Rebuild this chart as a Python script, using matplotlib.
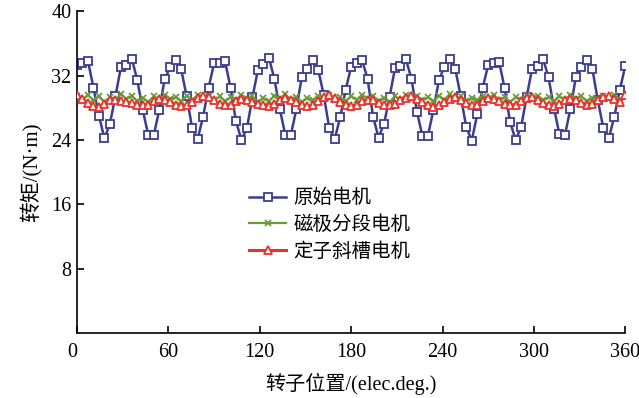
import numpy as np
import matplotlib
matplotlib.use("Agg")
import matplotlib.pyplot as plt

# 数据 (读自原图, 每 3.6 度一个点)
yuanshi = [33.3, 33.6, 33.8, 30.5, 27.0, 24.2, 26.0, 29.4, 33.0, 33.3,
           34.1, 31.4, 27.7, 24.6, 24.6, 27.7, 31.6, 33.0, 33.9, 32.8,
           29.4, 25.5, 24.1, 26.9, 30.5, 33.5, 33.6, 33.8, 30.5, 26.3,
           24.0, 25.5, 29.3, 32.7, 33.4, 34.2, 31.6, 27.8, 24.6, 24.6,
           27.8, 31.8, 32.8, 33.9, 32.7, 29.6, 25.5, 24.1, 26.8, 30.2,
           33.1, 33.6, 33.9, 31.6, 26.9, 24.3, 26.0, 29.3, 32.9, 33.2,
           34.0, 31.6, 27.5, 24.5, 24.5, 27.7, 31.4, 33.1, 34.1, 32.8,
           29.4, 25.6, 23.9, 27.2, 30.5, 33.3, 33.5, 33.7, 30.4, 26.2,
           24.0, 25.6, 29.3, 32.8, 33.2, 34.1, 31.8, 27.9, 24.7, 24.6,
           27.9, 31.8, 33.1, 33.9, 32.8, 28.9, 25.5, 24.2, 26.9, 30.2,
           33.2]

cifen = [29.5, 29.0, 29.6, 28.9, 29.4, 28.7, 29.3, 29.0, 29.7, 29.1,
         29.5, 28.8, 29.2, 28.7, 29.4, 29.0, 29.6, 29.1, 29.3, 28.8,
         29.5, 28.9, 29.6, 29.2, 29.5, 28.9, 29.4, 28.8, 29.3, 29.0,
         29.6, 29.1, 29.4, 28.7, 29.2, 28.8, 29.5, 29.1, 29.7, 29.0,
         29.3, 28.7, 29.2, 28.9, 29.5, 29.2, 29.6, 28.9, 29.3, 28.8,
         29.4, 29.0, 29.6, 29.1, 29.5, 28.8, 29.2, 28.7, 29.4, 29.0,
         29.6, 29.2, 29.5, 28.9, 29.3, 28.8, 29.5, 29.0, 29.7, 29.1,
         29.4, 28.8, 29.2, 28.9, 29.5, 29.1, 29.6, 29.0, 29.3, 28.7,
         29.3, 28.9, 29.6, 29.2, 29.5, 28.9, 29.3, 28.8, 29.4, 29.0,
         29.6, 29.1, 29.4, 28.8, 29.2, 28.9, 29.5, 29.1, 29.6, 29.0,
         29.5]

xiecao = [29.6, 29.1, 28.6, 28.2, 28.1, 28.5, 28.9, 28.9, 28.8, 28.7,
          28.6, 28.4, 28.3, 28.4, 28.8, 29.1, 29.0, 28.7, 28.4, 28.2,
          28.3, 28.7, 29.2, 29.5, 29.3, 28.9, 28.5, 28.3, 28.4, 28.8,
          29.1, 29.0, 28.7, 28.5, 28.4, 28.2, 28.5, 28.9, 29.2, 29.0,
          28.7, 28.4, 28.2, 28.3, 28.8, 29.3, 29.6, 29.2, 28.7, 28.4,
          28.2, 28.4, 28.8, 29.0, 28.9, 28.6, 28.4, 28.3, 28.5, 28.9,
          29.2, 29.4, 29.1, 28.7, 28.3, 28.1, 28.3, 28.7, 29.1, 29.3,
          29.0, 28.6, 28.3, 28.4, 28.8, 29.2, 29.1, 28.8, 28.5, 28.3,
          28.4, 28.8, 29.2, 29.3, 29.0, 28.6, 28.3, 28.2, 28.5, 28.9,
          29.1, 28.9, 28.6, 28.4, 28.5, 28.9, 29.3, 29.5, 29.1, 28.7,
          29.6]

xticks = [0, 60, 120, 180, 240, 300, 360]
yticks = [8, 16, 24, 32, 40]

serif = ['Liberation Serif', 'Noto Sans CJK SC']
plt.rcParams['font.family'] = serif
plt.rcParams['axes.unicode_minus'] = False

fig = plt.figure(figsize=(6.39, 3.98), dpi=100)
ax = fig.add_axes([0.1205, 0.163, 0.858, 0.809])

ax.plot(np.linspace(0, 360, len(yuanshi)), yuanshi, color='#3d3d8f', lw=1.8,
        marker='s', ms=6, mfc='white', mec='#3d3d8f', mew=1.3, label='原始电机', zorder=2)
ax.plot(np.linspace(0, 360, len(cifen)), cifen, color='#6b9b37', lw=1.6,
        marker='x', ms=5, mew=1.3, label='磁极分段电机', zorder=3)
ax.plot(np.linspace(0, 360, len(xiecao)), xiecao, color='#e8322b', lw=2.2,
        marker='^', ms=6, mfc='white', mec='#e8322b', mew=1.3, label='定子斜槽电机', zorder=4)

ax.set_xlim(0, 360)
ax.set_ylim(0, 40)
ax.set_xticks(xticks)
ax.set_yticks(yticks)
ax.spines['top'].set_visible(False)
ax.spines['right'].set_visible(False)
for s in ['left', 'bottom']:
    ax.spines[s].set_linewidth(1.2)
ax.tick_params(direction='in', length=5, width=1.2, labelsize=14.5)
ax.tick_params(axis='x', pad=7)
ax.tick_params(axis='y', pad=4)
ax.get_xticklabels()[0].set_horizontalalignment('right')

ax.set_xlabel('转子位置/(elec.deg.)', fontsize=14.5, labelpad=8)
ax.set_ylabel('转矩/(N·m)', fontsize=15, labelpad=6)

leg = ax.legend(loc='upper left', bbox_to_anchor=(0.378, 0.545), bbox_transform=fig.transFigure,
                frameon=False, fontsize=14, handlelength=1.9, handletextpad=0.35,
                labelspacing=0.42, borderaxespad=0)

fig.savefig('out.png', dpi=100)
